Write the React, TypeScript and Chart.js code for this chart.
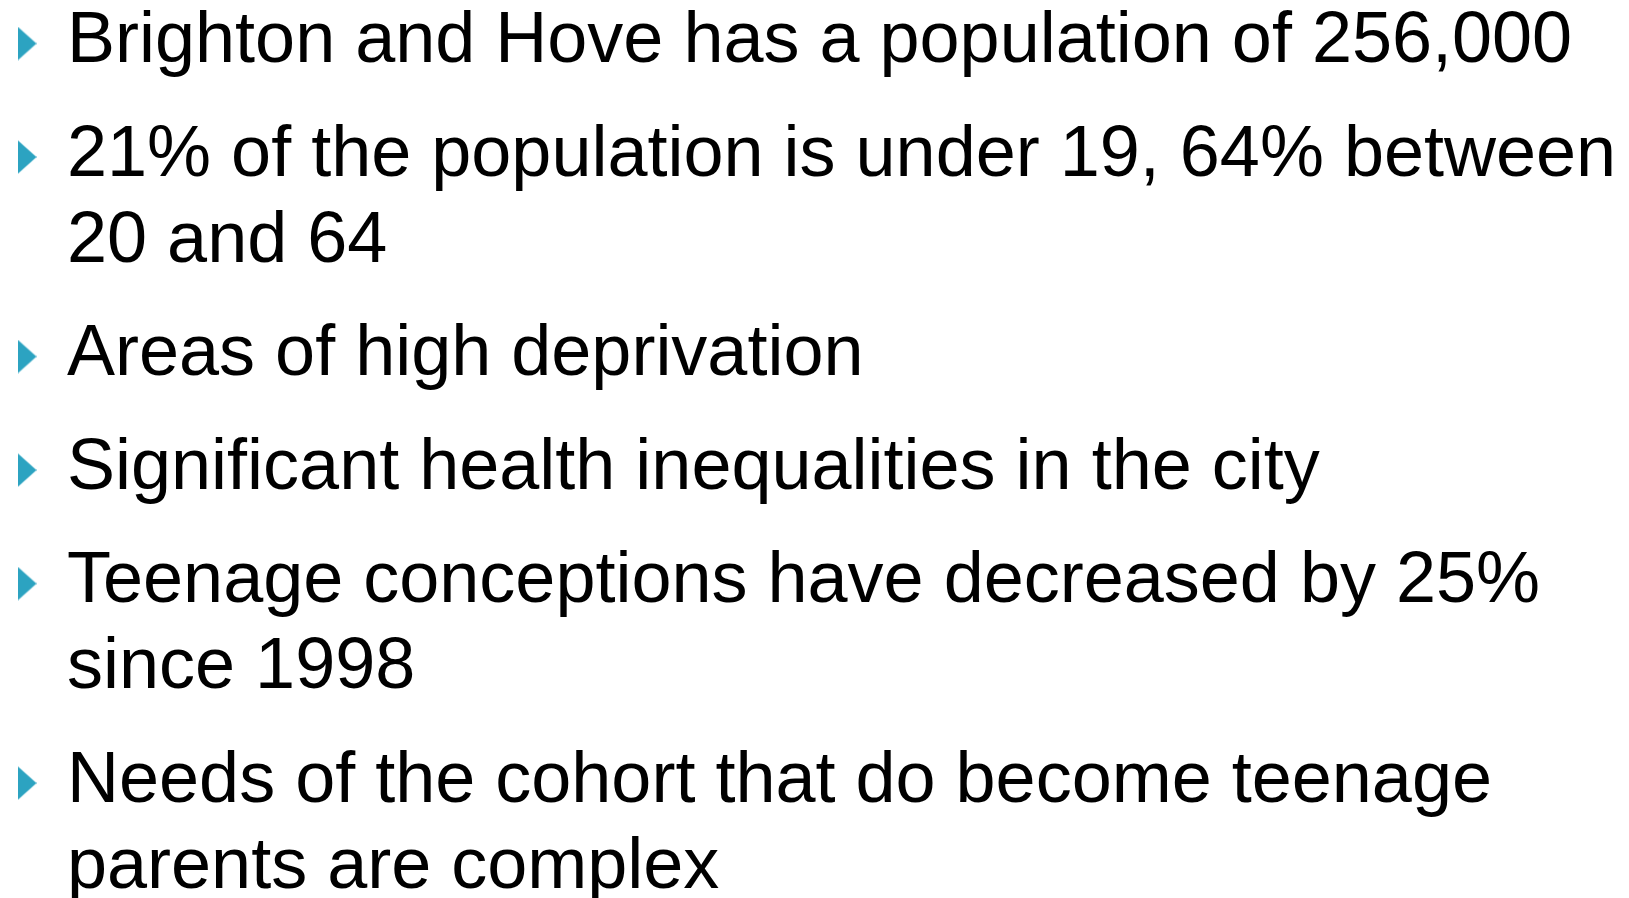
import React, { useEffect, useRef } from "react";
import { Chart, registerables } from "chart.js";

Chart.register(...registerables);

// Bullet paragraphs (each inner array = wrapped lines of one bullet)
const bulletLines: string[][] = [
  ["Brighton and Hove has a population of 256,000"],
  ["21% of the population is under 19, 64% between", "20 and 64"],
  ["Areas of high deprivation"],
  ["Significant health inequalities in the city"],
  ["Teenage conceptions have decreased by 25%", "since 1998"],
  ["Needs of the cohort that do become teenage", "parents are complex"],
];

const BULLET_COLOR = "#2CA3C1";
const TEXT_COLOR = "#000000";
const FONT = "72px 'Liberation Sans', Arial, sans-serif";

// layout in "line units"
const PARA_GAP = 0.32; // extra space between bullets, in lines
const BULLET_OFFSET = 0.215; // bullet centre above baseline, in lines

function computeLayout() {
  const bulletPoints: { x: number; y: number }[] = [];
  const textLines: { text: string; y: number }[] = [];
  let line = 0;
  bulletLines.forEach((para, p) => {
    const base = line + p * PARA_GAP;
    bulletPoints.push({ x: 27, y: base - BULLET_OFFSET });
    para.forEach((t, i) => {
      textLines.push({ text: t, y: base + i });
    });
    line += para.length;
  });
  return { bulletPoints, textLines };
}

function makeTriangle(color: string) {
  const c = document.createElement("canvas");
  c.width = 19;
  c.height = 34;
  const ctx = c.getContext("2d")!;
  ctx.fillStyle = color;
  ctx.beginPath();
  ctx.moveTo(0, 0);
  ctx.lineTo(19, 17);
  ctx.lineTo(0, 34);
  ctx.closePath();
  ctx.fill();
  return c;
}

export default function App() {
  const ref = useRef<HTMLCanvasElement | null>(null);

  useEffect(() => {
    document.body.style.margin = "0";
    document.body.style.background = "#ffffff";
    const { bulletPoints, textLines } = computeLayout();
    const tri = makeTriangle(BULLET_COLOR);

    const textPlugin = {
      id: "bulletText",
      afterDatasetsDraw(chart: any) {
        const ctx = chart.ctx;
        const xs = chart.scales.x;
        const ys = chart.scales.y;
        ctx.save();
        ctx.font = FONT;
        ctx.fillStyle = TEXT_COLOR;
        ctx.textAlign = "left";
        ctx.textBaseline = "alphabetic";
        textLines.forEach((l) => {
          ctx.fillText(l.text, xs.getPixelForValue(67), ys.getPixelForValue(l.y));
        });
        ctx.restore();
      },
    };

    const chart = new Chart(ref.current!, {
      type: "scatter",
      data: {
        datasets: [
          {
            data: bulletPoints,
            pointStyle: tri as any,
            pointRadius: 10,
            pointHoverRadius: 10,
            backgroundColor: BULLET_COLOR,
          },
        ],
      },
      options: {
        responsive: false,
        animation: false,
        layout: { padding: 0, autoPadding: false },
        plugins: { legend: { display: false }, tooltip: { enabled: false } },
        scales: {
          x: { type: "linear", min: 0, max: 1629, display: false },
          y: {
            type: "linear",
            reverse: true,
            min: -62 / 86,
            max: (898 - 62) / 86,
            display: false,
          },
        },
      },
      plugins: [textPlugin],
    });
    return () => chart.destroy();
  }, []);

  return (
    <div style={{ position: "fixed", left: 0, top: 0, width: 1629, height: 898, background: "#fff" }}>
      <canvas ref={ref} width={1629} height={898} style={{ display: "block" }} />
    </div>
  );
}
